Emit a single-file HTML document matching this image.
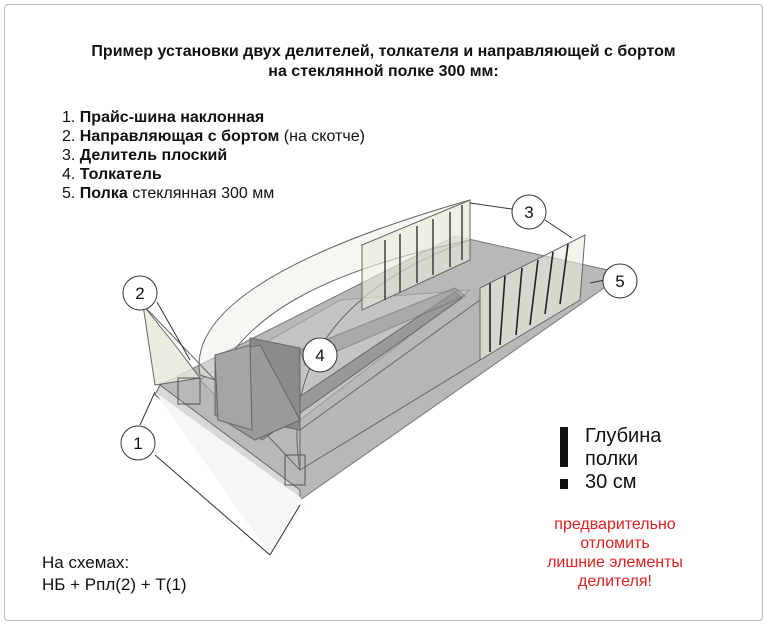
<!DOCTYPE html>
<html><head><meta charset="utf-8"><style>
html,body{margin:0;padding:0;background:#fff;}
body{width:767px;height:625px;position:relative;overflow:hidden;font-family:"Liberation Sans","DejaVu Sans",sans-serif;}
.frame{position:absolute;left:4px;top:4px;width:757px;height:615px;border:1px solid #bbb;border-radius:4px;}
.t{position:absolute;color:#111;}
</style></head><body>
<div class="frame"></div>
<div class="t" style="left:0;width:767px;top:42px;text-align:center;font-weight:bold;font-size:16px;line-height:20px;">Пример установки двух делителей, толкателя и направляющей с бортом<br>на стеклянной полке 300 мм:</div>
<div class="t" style="left:62px;top:108px;font-size:16px;line-height:19px;">
1. <b>Прайс-шина наклонная</b><br>
2. <b>Направляющая с бортом</b> (на скотче)<br>
3. <b>Делитель плоский</b><br>
4. <b>Толкатель</b><br>
5. <b>Полка</b> стеклянная 300 мм</div>
<svg width="767" height="625" style="position:absolute;left:0;top:0" viewBox="0 0 767 625">
<g stroke="#666" stroke-width="1" fill="none">
<!-- shelf -->
<polygon points="455,236 608,270 604,288 310,493 300,500 155,395 160,385" fill="#b8b8b8" stroke="#777"/>
<polygon points="160,385 300,490 300,500 155,395" fill="#d8d8d8"/>
<polygon points="200,380 340,300 470,290 300,420 230,410" fill="#c4c4c4" stroke="#999"/>
<!-- front strip -->
<polygon points="155,392 300,497 305,505 270,555" fill="#f6f6f6" stroke="none"/>
<!-- curved board -->
<path d="M143,305 L155,385 L200,378 L175,345 Z" fill="#e6e9d8" fill-opacity="0.8"/>
<path d="M200,375 C190,320 260,260 470,200 L470,240 C330,270 250,310 215,380 Z" fill="#eef0e4" fill-opacity="0.5"/>
<path d="M143,305 L215,380 L300,470" />
<path d="M470,240 C360,280 280,350 300,470" fill="none"/>
<!-- pusher rail -->
<polygon points="250,430 455,292 462,298 262,440" fill="#999"/>
<polygon points="300,350 455,288 465,296 305,365" fill="#999" opacity="0.6"/>
<!-- pusher -->
<polygon points="250,338 300,348 300,430 250,420" fill="#8a8a8a"/>
<polygon points="215,355 260,345 300,420 255,440 215,415" fill="#9a9a9a"/>
<polygon points="215,355 250,345 252,430 218,420" fill="#a5a5a5"/>
<!-- left divider plates -->
<polygon points="362,245 470,200 470,260 362,310" fill="#e8ecdc" fill-opacity="0.6"/>
<g stroke="#333" stroke-width="1.4">
<line x1="385" y1="240" x2="385" y2="300"/><line x1="400" y1="234" x2="400" y2="292"/>
<line x1="417" y1="226" x2="417" y2="283"/><line x1="433" y1="219" x2="433" y2="275"/>
<line x1="450" y1="212" x2="450" y2="267"/><line x1="462" y1="205" x2="462" y2="260"/>
</g>
<!-- right divider plates -->
<polygon points="480,288 585,235 580,300 480,360" fill="#e8ecdc" fill-opacity="0.6"/>
<polygon points="300,430 480,300 480,360 300,470" fill="#b5b5b5" fill-opacity="0.6"/>
<g stroke="#222" stroke-width="1.6">
<line x1="490" y1="283" x2="490" y2="352"/><line x1="505" y1="276" x2="500" y2="345"/>
<line x1="522" y1="268" x2="516" y2="335"/><line x1="538" y1="260" x2="530" y2="325"/>
<line x1="553" y1="252" x2="545" y2="314"/><line x1="568" y1="244" x2="560" y2="304"/>
</g>
<!-- hooks -->
<rect x="178" y="378" width="22" height="26" fill="none" stroke="#555"/>
<rect x="285" y="455" width="20" height="30" fill="none" stroke="#555"/>
<!-- callouts -->
<g stroke="#333">
<line x1="470" y1="203" x2="512" y2="209"/>
<line x1="545" y1="220" x2="572" y2="238"/>
<line x1="157" y1="302" x2="190" y2="360"/>
<line x1="605" y1="280" x2="590" y2="283"/>
<line x1="140" y1="425" x2="155" y2="392"/>
<line x1="155" y1="455" x2="270" y2="555"/>
<line x1="270" y1="555" x2="300" y2="505"/>
<circle cx="529" cy="212" r="17" fill="#fff"/>
<circle cx="620" cy="281" r="17" fill="#fff"/>
<circle cx="140" cy="293" r="17" fill="#fff"/>
<circle cx="320" cy="355" r="17" fill="#fff"/>
<circle cx="138" cy="443" r="17" fill="#fff"/>
</g>
</g>
<g font-size="17" text-anchor="middle" fill="#111" font-family="Liberation Sans, sans-serif">
<text x="529" y="218">3</text><text x="620" y="287">5</text><text x="140" y="299">2</text>
<text x="320" y="361">4</text><text x="138" y="449">1</text>
</g>
<rect x="560" y="427" width="8" height="40" fill="#111"/>
<rect x="560" y="479" width="8" height="10" fill="#111"/>
</svg>
<div class="t" style="left:585px;top:425px;font-size:20px;line-height:23px;">Глубина<br>полки<br>30 см</div>
<div class="t" style="left:520px;top:515px;width:190px;text-align:center;font-size:16px;line-height:19px;color:#e02020;">предварительно<br>отломить<br>лишние элементы<br>делителя!</div>
<div class="t" style="left:42px;top:552px;font-size:17px;line-height:22px;">На схемах:<br>НБ + Рпл(2) + Т(1)</div>
</body></html>
